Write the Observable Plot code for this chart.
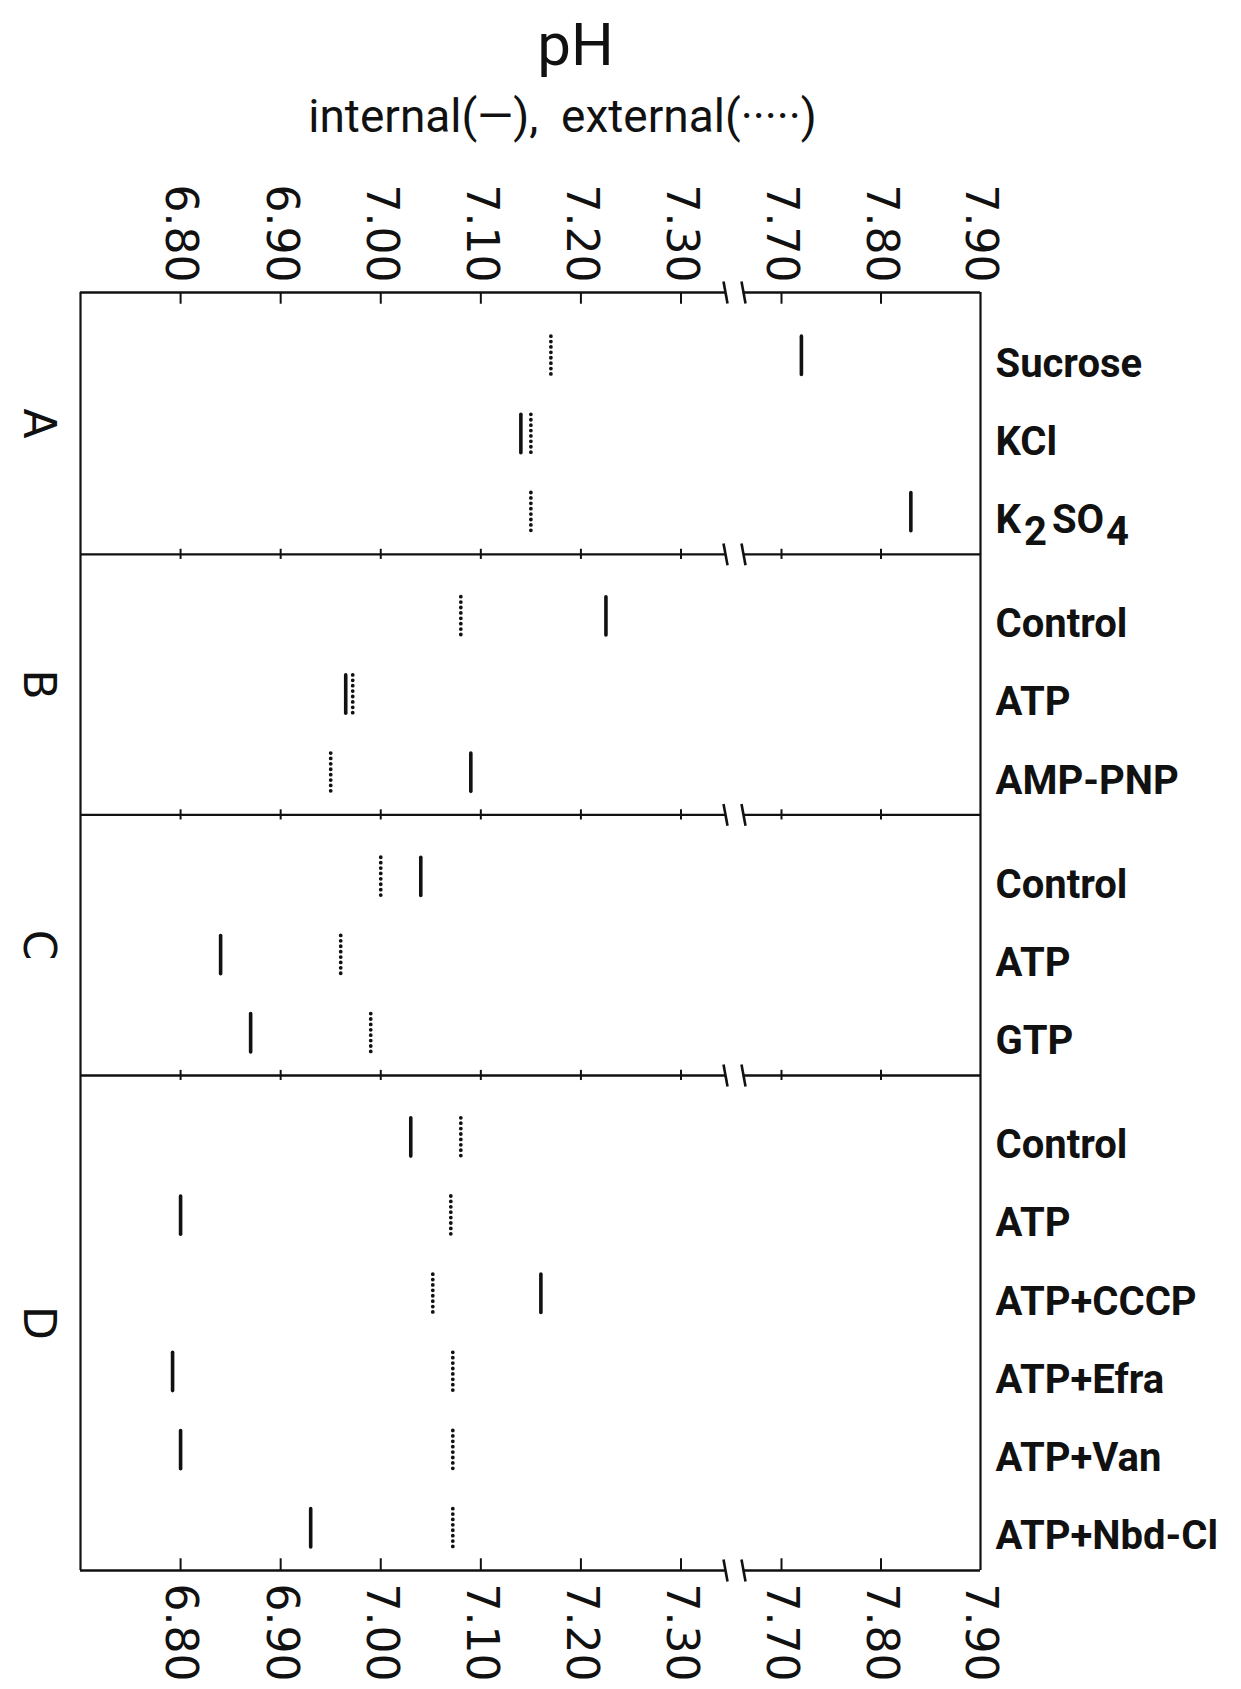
<!DOCTYPE html>
<html>
<head>
<meta charset="utf-8">
<script src="https://cdn.jsdelivr.net/npm/d3@7"></script>
<script src="https://cdn.jsdelivr.net/npm/@observablehq/plot@0.6"></script>
<style>
  html, body { margin: 0; padding: 0; background: #fff; }
  svg { display: block; }
</style>
</head>
<body>
<div id="chart"></div>
<script>
// ---- data ----
const panelNames = ["A", "B", "C", "D"];
const rowPanel = ["A", "A", "A", "B", "B", "B", "C", "C", "C", "D", "D", "D", "D", "D", "D"];
const rowLabel = ["Sucrose", "KCl", "K2SO4",
                  "Control", "ATP", "AMP-PNP",
                  "Control", "ATP", "GTP",
                  "Control", "ATP", "ATP+CCCP", "ATP+Efra", "ATP+Van", "ATP+Nbd-Cl"];
const internalPH = [7.72, 7.14, 7.83,
                    7.225, 6.965, 7.09,
                    7.04, 6.84, 6.87,
                    7.03, 6.80, 7.16, 6.792, 6.80, 6.93];
const externalPH = [7.17, 7.15, 7.15,
                    7.08, 6.972, 6.95,
                    7.00, 6.96, 6.99,
                    7.08, 7.07, 7.052, 7.072, 7.072, 7.072];
const tickPH = [6.80, 6.90, 7.00, 7.10, 7.20, 7.30, 7.70, 7.80, 7.90];
const axisBreak = [7.30, 7.70];   // scale break between these values
const titleText = "pH";
const subtitleText = "internal(\u2014),\u00a0\u00a0external(\u00b7\u00b7\u00b7\u00b7\u00b7)";

// ---- layout helpers ----
const W = 1241, H = 1689;
const mL = 80, mR = 261, mT = 292, mB = 119;
const ink = "#111";

const rowPos = rowPanel.map((p, i) => i + panelNames.indexOf(p) / 3);
const panelFirst = panelNames.map(p => d3.min(rowPos.filter((_, i) => rowPanel[i] === p)));
const panelLast = panelNames.map(p => d3.max(rowPos.filter((_, i) => rowPanel[i] === p)));
const topEdge = panelFirst[0] - 0.81;
const boundaries = [topEdge, ...panelLast.map(v => v + 0.54)];
const panelCenters = panelNames.map((p, i) => ({p, y: (boundaries[i] + boundaries[i + 1]) / 2}));
const xMin = 6.70, xMax = tickPH[tickPH.length - 1];
// the break segment (7.30 -> 7.70) spans one tick interval on screen
const brk = axisBreak[1] - axisBreak[0];
const gapLo = axisBreak[0] + 0.443 * brk, gapHi = axisBreak[0] + 0.622 * brk;
const slant = 0.02 * brk;

const rows = rowLabel.map((label, i) => ({label, pos: rowPos[i], inner: internalPH[i], outer: externalPH[i]}));
const bnd = boundaries.map((y, i) => ({y, kind: i === 0 ? "top" : i === boundaries.length - 1 ? "bottom" : "mid"}));
const tickMarks = bnd.flatMap(b => tickPH.slice(0, -1).map(x => {
  const len = 0.15, half = 0.065;
  if (b.kind === "top") return {x, y1: b.y, y2: b.y + len};
  if (b.kind === "bottom") return {x, y1: b.y, y2: b.y - len};
  return {x, y1: b.y - half, y2: b.y + half};
}));
const breakMarks = bnd.flatMap(b => [gapLo, gapHi].map(x => ({x1: x - slant, x2: x + slant, y1: b.y - 0.14, y2: b.y + 0.14})));

const halfLen = 0.245;

const plot = Plot.plot({
  width: W,
  height: H,
  marginLeft: mL, marginRight: mR, marginTop: mT, marginBottom: mB,
  style: {background: "#fff", color: ink, overflow: "visible"},
  x: {type: "linear", domain: [xMin, axisBreak[0], axisBreak[1], xMax], range: [80, 680.5, 781, 980], axis: null},
  y: {type: "linear", domain: [topEdge, boundaries[boundaries.length - 1]], range: [292, 1570], axis: null},
  marks: [
    // frame verticals
    Plot.ruleX([xMin, xMax], {x: d => d, y1: boundaries[0], y2: boundaries[boundaries.length - 1], stroke: ink, strokeWidth: 2.2}),
    // horizontal axis lines with break
    Plot.ruleY(bnd, {y: "y", x1: xMin, x2: gapLo, stroke: ink, strokeWidth: 2.4}),
    Plot.ruleY(bnd, {y: "y", x1: gapHi, x2: xMax, stroke: ink, strokeWidth: 2.4}),
    Plot.link(breakMarks, {x1: "x1", x2: "x2", y1: "y1", y2: "y2", stroke: ink, strokeWidth: 2.6}),
    // ticks
    Plot.ruleX(tickMarks, {x: "x", y1: "y1", y2: "y2", stroke: ink, strokeWidth: 2}),
    // tick labels, top and bottom
    Plot.text(tickPH, {x: d => d, text: d => d.toFixed(2), frameAnchor: "top", rotate: 90, textAnchor: "end",
      lineAnchor: "middle", dy: -10, fontSize: 44, fontFamily: "DejaVu Sans", fill: ink}),
    Plot.text(tickPH, {x: d => d, text: d => d.toFixed(2), frameAnchor: "bottom", rotate: 90, textAnchor: "start",
      lineAnchor: "middle", dy: 13, fontSize: 44, fontFamily: "DejaVu Sans", fill: ink}),
    // internal pH (solid)
    Plot.ruleX(rows, {x: "inner", y1: d => d.pos - halfLen, y2: d => d.pos + halfLen, stroke: ink, strokeWidth: 3.6, strokeLinecap: "round"}),
    // external pH (dotted)
    Plot.ruleX(rows, {x: "outer", y1: d => d.pos - halfLen, y2: d => d.pos + halfLen, stroke: ink, strokeWidth: 3.8,
      strokeLinecap: "round", strokeDasharray: "0 5.4"}),
    // row labels
    Plot.text(rows, {x: xMax, y: "pos", text: "label", textAnchor: "start", dx: 15, dy: 8,
      fontSize: 40, fontWeight: 700, fontFamily: "Roboto", fill: ink}),
    // panel letters
    Plot.text(panelCenters, {y: "y", text: "p", frameAnchor: "left", dx: -42, rotate: 90, textAnchor: "middle",
      lineAnchor: "middle", fontSize: 44, fontFamily: "DejaVu Sans", fill: ink}),
    // title & subtitle
    Plot.text([titleText], {text: d => d, frameAnchor: "top", dx: 45, dy: 64.6 - mT, lineAnchor: "bottom",
      textAnchor: "middle", fontSize: 60, fontFamily: "Roboto", fill: ink}),
    Plot.text([subtitleText], {text: d => d, frameAnchor: "top", dx: 32, dy: 131 - mT, lineAnchor: "bottom",
      textAnchor: "middle", fontSize: 46, fontFamily: "Roboto", fill: ink})
  ]
});

// subscripts for K2SO4
d3.select(plot).selectAll("text").filter(function () { return this.textContent === "K2SO4"; }).each(function () {
  const t = d3.select(this);
  t.text(null);
  t.append("tspan").text("K");
  t.append("tspan").attr("dx", 3).attr("dy", "0.3em").text("2");
  t.append("tspan").attr("dx", 5).attr("dy", "-0.3em").text("SO");
  t.append("tspan").attr("dx", 2).attr("dy", "0.3em").text("4");
});

document.getElementById("chart").appendChild(plot);
</script>
</body>
</html>
